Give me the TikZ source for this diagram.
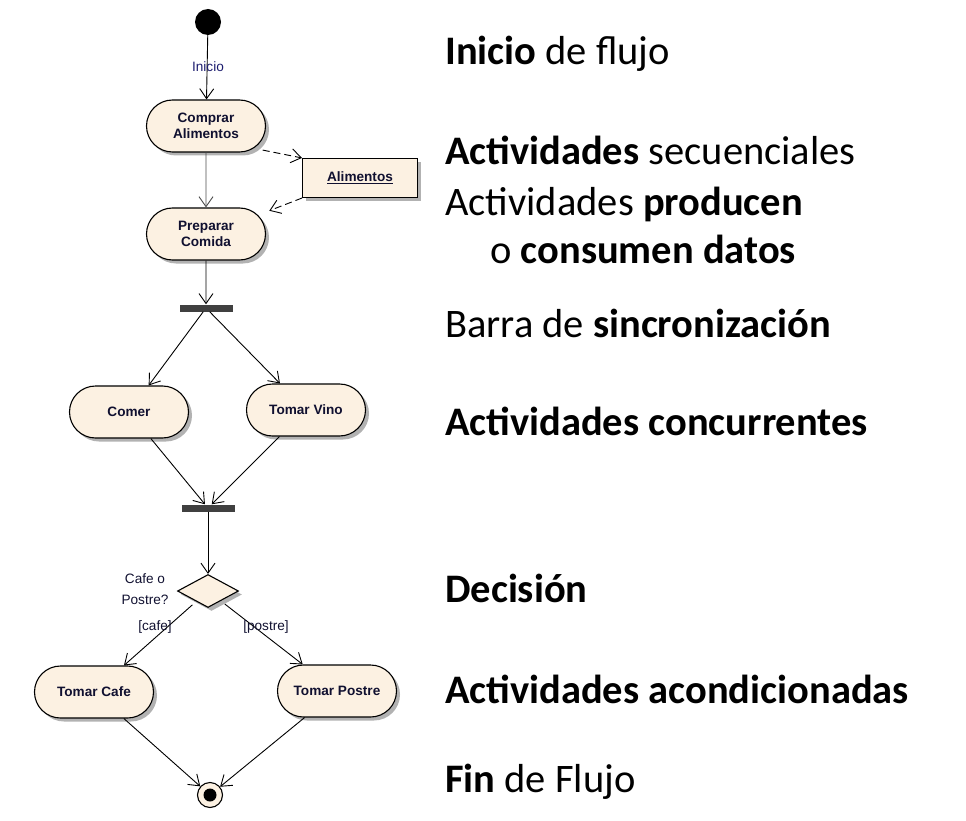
\documentclass[tikz,border=0pt]{standalone}
\usepackage{fontspec}
\setmainfont{Carlito}
\newfontfamily\umlfont{Liberation Sans}
\usetikzlibrary{shapes.misc,shapes.geometric,shadows,arrows.meta}
\definecolor{umlfill}{RGB}{252,241,226}
\definecolor{umlink}{RGB}{16,16,48}
\definecolor{umlnavy}{RGB}{28,28,110}
\begin{document}
\begin{tikzpicture}[x=1pt,y=-1pt]
\tikzstyle{umlshadow}=[drop shadow={shadow xshift=3.5pt,shadow yshift=-3.5pt,fill=black!30,opacity=1}]
\tikzstyle{activity}=[draw,rounded rectangle,fill=umlfill,line width=1.1pt,minimum width=119pt,minimum height=52pt,inner sep=0pt,align=center,text=umlink,font=\umlfont\bfseries\fontsize{13.6}{16}\selectfont,umlshadow]
\tikzstyle{dataobj}=[draw,rectangle,fill=umlfill,line width=1.1pt,minimum width=115pt,minimum height=39pt,inner sep=0pt,text=umlink,font=\umlfont\bfseries\fontsize{13.6}{16}\selectfont,umlshadow]
\tikzstyle{syncbar}=[rectangle,fill=black!75,minimum width=53pt,minimum height=7pt,inner sep=0pt]
\tikzstyle{choice}=[draw,diamond,fill=umlfill,line width=1.1pt,minimum width=61pt,minimum height=33pt,inner sep=0pt,umlshadow]
\tikzstyle{guard}=[inner sep=1pt,align=center,text=umlink,font=\umlfont\fontsize{13.6}{21}\selectfont]
\tikzstyle{flow}=[line width=0.9pt,-{Straight Barb[length=10pt,width=14pt]}]
\tikzstyle{dataflow}=[flow,dashed,dash pattern=on 7pt off 4pt]
\tikzstyle{note}=[anchor=base west,inner sep=0pt,font=\fontsize{40.5}{48}\selectfont]
\useasboundingbox (0,0) rectangle (966,821);
\node[circle,fill=black,minimum size=26pt,inner sep=0pt] (start) at (208,22) {};
\node[activity] (comprar) at (206,126) {Comprar\\Alimentos};
\node[dataobj] (alimentos) at (360,178) {\underline{Alimentos}};
\node[activity] (preparar) at (206,234) {Preparar\\Comida};
\node[syncbar] (fork) at (206,308) {};
\node[activity] (comer) at (129,412) {Comer};
\node[activity] (vino) at (306,410) {Tomar Vino};
\node[syncbar] (join) at (208,508) {};
\node[choice] (decision) at (208,591) {};
\node[activity] (cafe) at (94,692) {Tomar Cafe};
\node[activity] (postre) at (337,691) {Tomar Postre};
\node[circle,draw,fill=umlfill,line width=1.1pt,minimum size=25pt,inner sep=0pt] (final) at (210,795) {};
\fill[black] (final.center) circle (6.5pt);
\draw[flow] (start) -- (comprar);
\node[guard,text=umlnavy] (lblinicio) at (208,67) {Inicio};
\draw[flow,draw=black!70] (comprar) -- (preparar);
\draw[dataflow,shorten <=9pt] (comprar.-25) -- (alimentos.north west);
\draw[dataflow,shorten >=12pt] (alimentos.south west) -- (preparar.20);
\draw[flow] (preparar) -- (fork);
\draw[flow] (fork) -- (comer);
\draw[flow] (fork) -- (vino);
\draw[flow] (comer) -- (join);
\draw[flow] (vino) -- (join);
\draw[flow] (join) -- (decision);
\node[guard] (lblpregunta) at (145,589) {Cafe o\\Postre?};
\draw[flow,shorten <=5pt] (decision) -- (cafe);
\draw[flow,shorten <=5pt] (decision) -- (postre);
\node[guard] (lblcafe) at (155,627) {[cafe]};
\node[guard] (lblpostre) at (266,627) {[postre]};
\draw[flow] (cafe) -- (final);
\draw[flow] (postre) -- (final);
\node[note] (t1) at (445,65) {\textbf{Inicio} de flujo};
\node[note] (t2) at (445,165) {\textbf{Actividades} secuenciales};
\node[note] (t3) at (445,215) {Actividades \textbf{producen}};
\node[note] (t4) at (490,263) {o \textbf{consumen datos}};
\node[note] (t5) at (445,337) {Barra de \textbf{sincronización}};
\node[note] (t6) at (445,435) {\textbf{Actividades concurrentes}};
\node[note] (t7) at (445,602) {\textbf{Decisión}};
\node[note] (t8) at (445,703) {\textbf{Actividades acondicionadas}};
\node[note] (t9) at (445,792) {\textbf{Fin} de Flujo};
\end{tikzpicture}
\end{document}
